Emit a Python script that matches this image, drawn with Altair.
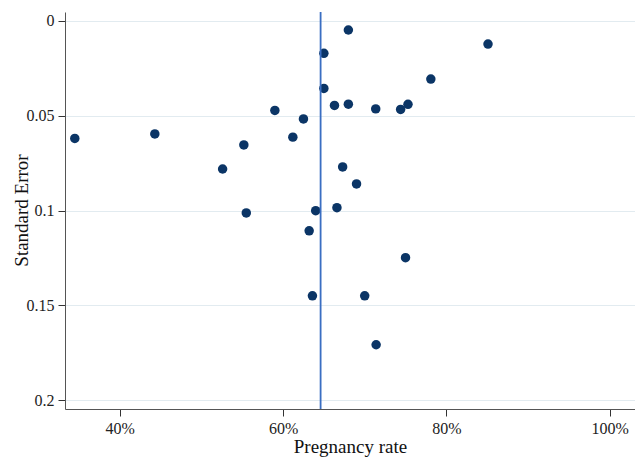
import altair as alt
import pandas as pd

rate = [34.5, 44.3, 52.6, 55.2, 55.5, 59.0, 61.2, 62.5, 63.2, 63.6, 64.0, 65.0, 65.0, 66.3,
        66.6, 67.3, 68.0, 68.0, 69.0, 70.0, 71.35, 71.4, 74.4, 75.0, 75.3, 78.1, 85.1]
se = [0.0620, 0.0596, 0.0781, 0.0654, 0.1013, 0.0472, 0.0613, 0.0517, 0.1107, 0.1450, 0.1001,
      0.0171, 0.0356, 0.0446, 0.0985, 0.0770, 0.0439, 0.0048, 0.0860, 0.1450, 0.0464, 0.1708,
      0.0467, 0.1249, 0.0440, 0.0307, 0.0122]
pooled = [64.6]
x_ticks = [40, 60, 80, 100]
y_ticks = [0, 0.05, 0.1, 0.15, 0.2]

df = pd.DataFrame({"rate": [r / 100 for r in rate], "se": se})
ref = pd.DataFrame({"rate": [p / 100 for p in pooled]})

FONT = "Liberation Serif"

xscale = alt.Scale(domain=[0.333, 1.031], nice=False, zero=False)
yscale = alt.Scale(domain=[-0.0047, 0.2047], reverse=True, nice=False, zero=False)

points = alt.Chart(df).mark_circle(size=90, opacity=1, color="#0b3566").encode(
    x=alt.X("rate:Q", scale=xscale,
            axis=alt.Axis(title="Pregnancy rate", format=".0%", values=[v / 100 for v in x_ticks],
                          grid=False, tickSize=7, labelPadding=4, titlePadding=1,
                          domainColor="#555555", tickColor="#333333")),
    y=alt.Y("se:Q", scale=yscale,
            axis=alt.Axis(title="Standard Error", values=y_ticks, format="~g",
                          grid=True, gridColor="#e2ebf0", gridWidth=1.2,
                          tickSize=7, labelPadding=4, titleX=-34, titleY=198,
                          domainColor="#555555", tickColor="#333333")),
)

vline = alt.Chart(ref).mark_rule(color="#3a6ec2", strokeWidth=1.8).encode(
    x=alt.X("rate:Q", scale=xscale)
)

chart = (points + vline).properties(
    width=570, height=397,
    autosize=alt.AutoSizeParams(type="none"),
    padding={"left": 65, "top": 12, "right": 0, "bottom": 54},
).configure_view(stroke=None).configure_axis(
    labelFont=FONT, titleFont=FONT, labelFontSize=16, titleFontSize=19,
    labelColor="#222222", titleColor="#111111", titleFontWeight="normal",
)

chart.save("out.html", embed_options={"renderer": "svg", "actions": False})
